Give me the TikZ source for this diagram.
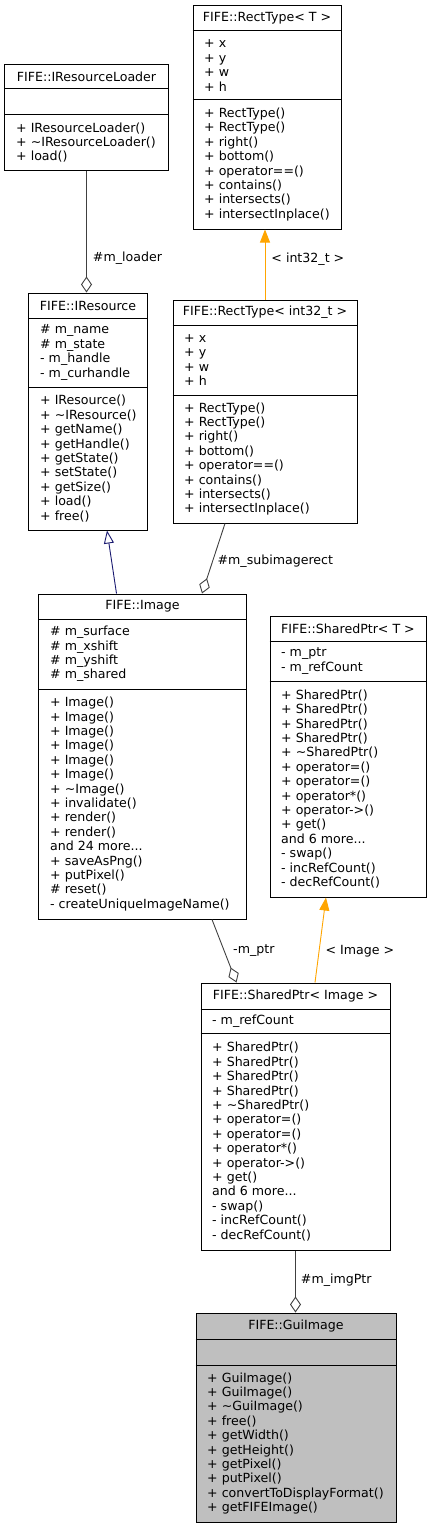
\documentclass[tikz,border=0pt]{standalone}
\usepackage{fontspec}
\setmainfont{DejaVu Sans}
\usetikzlibrary{positioning, arrows.meta}
\definecolor{edgegrey}{RGB}{64,64,64}
\definecolor{inhblue}{RGB}{25,25,112}
\definecolor{tplorange}{RGB}{255,165,0}
\definecolor{guigrey}{RGB}{191,191,191}

\begin{document}
\begin{tikzpicture}[
    x=1bp, y=-1bp,
    every node/.style={font=\fontsize{12.6bp}{14.4bp}\selectfont, inner sep=0pt},
    classbox/.style={draw, line width=1bp, fill=white},
    sep/.style={line width=1bp},
    title/.style={anchor=center},
    members/.style={anchor=west, align=left},
    lbl/.style={anchor=west},
    aggr/.style={draw=edgegrey, line width=0.9bp, -{Diamond[fill=white, length=16bp, width=11bp]}},
    inherit/.style={draw=inhblue, line width=0.9bp, -{Triangle[fill=white, length=13bp, width=10bp]}},
    tpl/.style={draw=tplorange, line width=0.9bp, -{Triangle[length=13bp, width=10bp]}}
]
\useasboundingbox (0,0) rectangle (431,1528);

% FIFE::RectType< T >
\node[classbox, minimum width=148bp, minimum height=223bp] (rectT) at (267,117.5) {};
\draw[sep] (rectT.west |- 0,31) -- (rectT.east |- 0,31);
\draw[sep] (rectT.west |- 0,100) -- (rectT.east |- 0,100);
\node[title] (rectT-title) at (267,18.5) {FIFE::RectType< T >};
\node[members] (rectT-attr) at (204,65.5) {+ x\\+ y\\+ w\\+ h};
\node[members] (rectT-ops) at (204,164.5) {+ RectType()\\+ RectType()\\+ right()\\+ bottom()\\+ operator==()\\+ contains()\\+ intersects()\\+ intersectInplace()};

% FIFE::IResourceLoader
\node[classbox, minimum width=163bp, minimum height=105bp] (loader) at (86.5,117.5) {};
\draw[sep] (loader.west |- 0,89) -- (loader.east |- 0,89);
\draw[sep] (loader.west |- 0,115) -- (loader.east |- 0,115);
\node[title] (loader-title) at (86.5,77) {FIFE::IResourceLoader};
\node[members] (loader-ops) at (16,142.5) {+ IResourceLoader()\\+ \textasciitilde IResourceLoader()\\+ load()};

% FIFE::IResource
\node[classbox, minimum width=118bp, minimum height=237bp] (ires) at (88,411.5) {};
\draw[sep] (ires.west |- 0,318) -- (ires.east |- 0,318);
\draw[sep] (ires.west |- 0,387) -- (ires.east |- 0,387);
\node[title] (ires-title) at (88,305.5) {FIFE::IResource};
\node[members] (ires-attr) at (40,352.5) {\# m\_name\\\# m\_state\\- m\_handle\\- m\_curhandle};
\node[members] (ires-ops) at (40,458.5) {+ IResource()\\+ \textasciitilde IResource()\\+ getName()\\+ getHandle()\\+ getState()\\+ setState()\\+ getSize()\\+ load()\\+ free()};

% FIFE::RectType< int32_t >
\node[classbox, minimum width=184bp, minimum height=223bp] (rect32) at (265,411.5) {};
\draw[sep] (rect32.west |- 0,325) -- (rect32.east |- 0,325);
\draw[sep] (rect32.west |- 0,395) -- (rect32.east |- 0,395);
\node[title] (rect32-title) at (265,312.5) {FIFE::RectType< int32\_t >};
\node[members] (rect32-attr) at (184,360) {+ x\\+ y\\+ w\\+ h};
\node[members] (rect32-ops) at (184,459) {+ RectType()\\+ RectType()\\+ right()\\+ bottom()\\+ operator==()\\+ contains()\\+ intersects()\\+ intersectInplace()};

% FIFE::Image
\node[classbox, minimum width=207bp, minimum height=325bp] (img) at (142.5,756.5) {};
\draw[sep] (img.west |- 0,619) -- (img.east |- 0,619);
\draw[sep] (img.west |- 0,689) -- (img.east |- 0,689);
\node[title] (img-title) at (142.5,606.5) {FIFE::Image};
\node[members] (img-attr) at (50,654) {\# m\_surface\\\# m\_xshift\\\# m\_yshift\\\# m\_shared};
\node[members] (img-ops) at (50,804) {+ Image()\\+ Image()\\+ Image()\\+ Image()\\+ Image()\\+ Image()\\+ \textasciitilde Image()\\+ invalidate()\\+ render()\\+ render()\\and 24 more...\\+ saveAsPng()\\+ putPixel()\\\# reset()\\- createUniqueImageName()};

% FIFE::SharedPtr< T >
\node[classbox, minimum width=156bp, minimum height=281bp] (sptrT) at (348,756.5) {};
\draw[sep] (sptrT.west |- 0,641) -- (sptrT.east |- 0,641);
\draw[sep] (sptrT.west |- 0,681) -- (sptrT.east |- 0,681);
\node[title] (sptrT-title) at (348,628.5) {FIFE::SharedPtr< T >};
\node[members] (sptrT-attr) at (281,661) {- m\_ptr\\- m\_refCount};
\node[members] (sptrT-ops) at (281,789) {+ SharedPtr()\\+ SharedPtr()\\+ SharedPtr()\\+ SharedPtr()\\+ \textasciitilde SharedPtr()\\+ operator=()\\+ operator=()\\+ operator*()\\+ operator->()\\+ get()\\and 6 more...\\- swap()\\- incRefCount()\\- decRefCount()};

% FIFE::SharedPtr< Image >
\node[classbox, minimum width=189bp, minimum height=267bp] (sptrImg) at (295.5,1116.5) {};
\draw[sep] (sptrImg.west |- 0,1009) -- (sptrImg.east |- 0,1009);
\draw[sep] (sptrImg.west |- 0,1033) -- (sptrImg.east |- 0,1033);
\node[title] (sptrImg-title) at (295.5,996) {FIFE::SharedPtr< Image >};
\node[members] (sptrImg-attr) at (212,1021) {- m\_refCount};
\node[members] (sptrImg-ops) at (212,1141.5) {+ SharedPtr()\\+ SharedPtr()\\+ SharedPtr()\\+ SharedPtr()\\+ \textasciitilde SharedPtr()\\+ operator=()\\+ operator=()\\+ operator*()\\+ operator->()\\+ get()\\and 6 more...\\- swap()\\- incRefCount()\\- decRefCount()};

% FIFE::GuiImage
\node[classbox, fill=guigrey, minimum width=200bp, minimum height=209bp] (gui) at (296,1417.5) {};
\draw[sep] (gui.west |- 0,1339) -- (gui.east |- 0,1339);
\draw[sep] (gui.west |- 0,1365) -- (gui.east |- 0,1365);
\node[title] (gui-title) at (296,1326) {FIFE::GuiImage};
\node[members] (gui-ops) at (207,1443.5) {+ GuiImage()\\+ GuiImage()\\+ \textasciitilde GuiImage()\\+ free()\\+ getWidth()\\+ getHeight()\\+ getPixel()\\+ putPixel()\\+ convertToDisplayFormat()\\+ getFIFEImage()};

% connectors
\draw[aggr] (loader.south) -- node[lbl, pos=0.72, xshift=6bp] (lbl-loader) {\#m\_loader} (loader.south |- ires.north);
\draw[tpl] (rect32.north) -- node[lbl, pos=0.577, xshift=6bp] (lbl-int32) {< int32\_t >} (rect32.north |- rectT.south);
\draw[inherit] ([xshift=-26bp]img.north) -- ([xshift=19bp]ires.south);
\draw[aggr] ([xshift=-40bp]rect32.south) -- node[lbl, pos=0.535, xshift=4.5bp] (lbl-subrect) {\#m\_subimagerect} ([xshift=59.5bp]img.north);
\draw[aggr] ([xshift=69.5bp]img.south) -- node[lbl, pos=0.5, xshift=8.5bp] (lbl-ptr) {-m\_ptr} ([xshift=-59bp]sptrImg.north);
\draw[tpl] ([xshift=19.5bp]sptrImg.north) -- node[lbl, pos=0.372, xshift=6bp] (lbl-image) {< Image >} ([xshift=-22bp]sptrT.south);
\draw[aggr] (sptrImg.south) -- node[lbl, pos=0.476, xshift=5bp] (lbl-imgptr) {\#m\_imgPtr} (sptrImg.south |- gui.north);
\end{tikzpicture}
\end{document}
